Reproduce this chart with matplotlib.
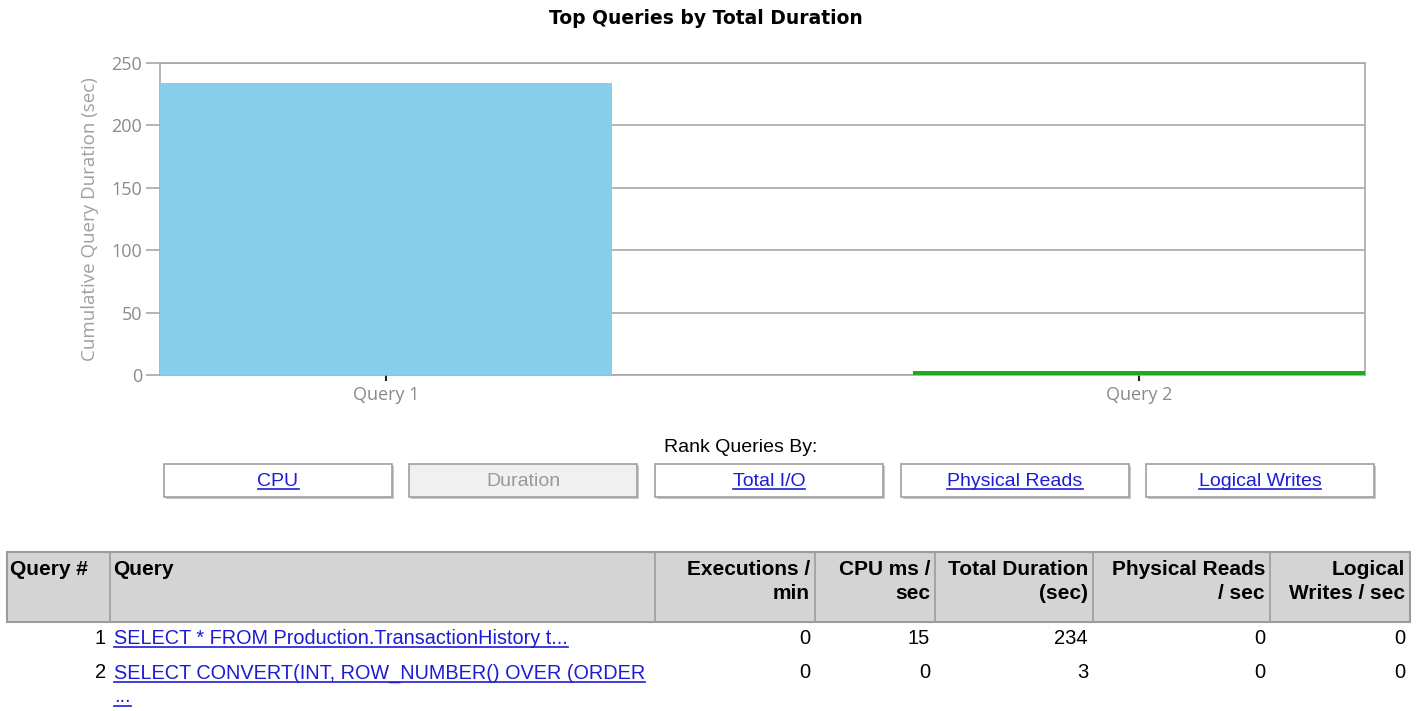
import matplotlib
matplotlib.use("Agg")

import matplotlib.pyplot as plt
from matplotlib.patches import Rectangle

# chart data
queries = ["Query 1", "Query 2"]
total_duration = [234, 3]
bar_colors = ["#87ceeb", "#1faa1f"]

# ranking buttons
rank_buttons = ["CPU", "Duration", "Total I/O", "Physical Reads", "Logical Writes"]
active_button = "Duration"

# table contents
table_headers = ["Query #", "Query", "Executions /\nmin", "CPU ms /\nsec",
                 "Total Duration\n(sec)", "Physical Reads\n/ sec", "Logical\nWrites / sec"]
query_numbers = [1, 2]
query_texts = ["SELECT * FROM Production.TransactionHistory t...",
               "SELECT CONVERT(INT, ROW_NUMBER() OVER (ORDER"]
executions_per_min = [0, 0]
cpu_ms_per_sec = [15, 0]
physical_reads_per_sec = [0, 0]
logical_writes_per_sec = [0, 0]

W, H = 1419, 711
fig = plt.figure(figsize=(W / 100, H / 100), dpi=100)

sans = ["Liberation Sans", "DejaVu Sans"]
chart_font = ["Open Sans", "DejaVu Sans"]
link_blue = "#1c1cd6"
grey = "#8a8a8a"

# overlay in pixel coordinates for the page furniture
ov = fig.add_axes([0, 0, 1, 1])
ov.set_xlim(0, W)
ov.set_ylim(H, 0)
ov.axis("off")

# bar chart
ax = fig.add_axes([160 / W, 1 - 375 / H, 1205 / W, 312 / H])
x = range(len(queries))
ax.bar(x, total_duration, width=0.6, color=bar_colors, zorder=3)
ax.set_xlim(-0.3, 1.3)
ax.set_ylim(0, 250)
ax.set_yticks([0, 50, 100, 150, 200, 250])
ax.set_xticks(list(x))
ax.set_xticklabels(queries)
ax.yaxis.grid(True, color="#a8a8a8", linewidth=1.2, zorder=0)
for side in ["left", "right", "bottom", "top"]:
    ax.spines[side].set_color("#a8a8a8")
    ax.spines[side].set_linewidth(1.2)
ax.tick_params(axis="y", colors="#a8a8a8", labelcolor=grey, labelsize=13,
               length=10, width=1.2, pad=3)
ax.tick_params(axis="x", colors="#222222", labelcolor=grey, labelsize=13,
               length=4, width=1.5, pad=4)
ax.set_ylabel("Cumulative Query Duration (sec)", color="#a0a0a0", fontsize=13.5,
              labelpad=9)
for lbl in ax.get_xticklabels() + ax.get_yticklabels():
    lbl.set_family(chart_font)
ax.yaxis.label.set_family(chart_font)

ov.text(706, 18, "Top Queries by Total Duration", ha="center", va="center",
        fontsize=13.5, fontweight="bold", family=["DejaVu Sans"])

# rank buttons
ov.text(741, 447, "Rank Queries By:", ha="center", va="center", fontsize=14,
        family=sans)
button_left = [164, 409, 655, 901, 1146]
links = []
for left, name in zip(button_left, rank_buttons):
    active = name == active_button
    ov.add_patch(Rectangle((left + 2, 466), 228, 33, facecolor="#c8c8c8",
                           edgecolor="none"))
    ov.add_patch(Rectangle((left, 464), 228, 33,
                           facecolor="#f0f0f0" if active else "white",
                           edgecolor="#a0a0a0", linewidth=1.2))
    t = ov.text(left + 114, 481, name, ha="center", va="center", fontsize=14,
                family=sans, color="#9a9a9a" if active else link_blue)
    if not active:
        links.append(t)

# table header
col_edges = [7, 110, 655, 815, 935, 1093, 1270, 1410]
ov.add_patch(Rectangle((col_edges[0], 552), col_edges[-1] - col_edges[0], 70,
                       facecolor="#d4d4d4", edgecolor="#9c9c9c", linewidth=1.5))
for xe in col_edges[1:-1]:
    ov.plot([xe, xe], [552, 622], color="#9c9c9c", linewidth=1.2)
for i, head in enumerate(table_headers):
    if i < 2:
        ov.text(col_edges[i] + 3, 560, head, ha="left", va="top", fontsize=15,
                fontweight="bold", family=sans, linespacing=1.35)
    else:
        ov.text(col_edges[i + 1] - 5, 560, head, ha="right", va="top",
                fontsize=15, fontweight="bold", family=sans,
                linespacing=1.35, multialignment="right")

# table rows
row_y = [638, 673]
value_cols = [executions_per_min, cpu_ms_per_sec, total_duration,
              physical_reads_per_sec, logical_writes_per_sec]
for r, y in enumerate(row_y):
    ov.text(106, y, str(query_numbers[r]), ha="right", va="center",
            fontsize=14.5, family=sans)
    links.append(ov.text(114, y, query_texts[r], ha="left", va="center",
                         fontsize=14.3, family=sans, color=link_blue))
    for c, values in enumerate(value_cols):
        ov.text(col_edges[c + 3] - 5, y, str(values[r]), ha="right",
                va="center", fontsize=14.5, family=sans)
links.append(ov.text(114, 697, "...", ha="left", va="center", fontsize=14.3,
                     family=sans, color=link_blue))

# underline the links
fig.canvas.draw()
inv = ov.transData.inverted()
for t in links:
    bb = t.get_window_extent()
    (x0, y0), (x1, _) = inv.transform([[bb.x0, bb.y0], [bb.x1, bb.y1]])
    ov.plot([x0, x1], [y0 - 1, y0 - 1], color=t.get_color(), linewidth=1.2)

fig.savefig("out.png", dpi=100)
plt.close(fig)
